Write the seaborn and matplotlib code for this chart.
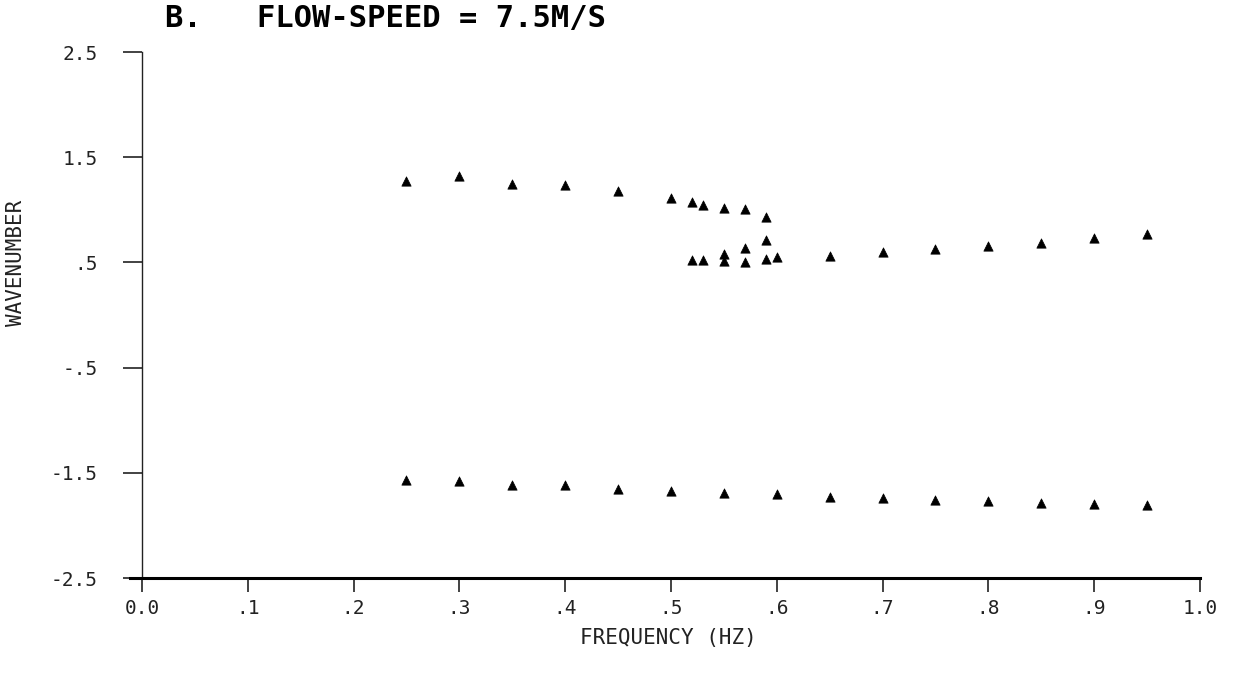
import matplotlib
matplotlib.use("Agg")
import matplotlib.pyplot as plt
import seaborn as sns
import pandas as pd

top_freq = [0.25, 0.30, 0.35, 0.40, 0.45, 0.50, 0.52, 0.53, 0.55, 0.57, 0.59]
top_k = [1.27, 1.32, 1.25, 1.24, 1.18, 1.11, 1.07, 1.045, 1.02, 1.01, 0.93]

mid_freq = [0.52, 0.53, 0.55, 0.55, 0.57, 0.57, 0.59, 0.59, 0.60,
            0.65, 0.70, 0.75, 0.80, 0.85, 0.90, 0.95]
mid_k = [0.52, 0.52, 0.58, 0.51, 0.64, 0.50, 0.71, 0.53, 0.55,
         0.56, 0.60, 0.63, 0.66, 0.68, 0.73, 0.77]

bot_freq = [0.25, 0.30, 0.35, 0.40, 0.45, 0.50, 0.55, 0.60,
            0.65, 0.70, 0.75, 0.80, 0.85, 0.90, 0.95]
bot_k = [-1.57, -1.58, -1.62, -1.62, -1.65, -1.67, -1.69, -1.70,
         -1.73, -1.74, -1.76, -1.77, -1.79, -1.80, -1.81]

x_ticks = [0.0, 0.1, 0.2, 0.3, 0.4, 0.5, 0.6, 0.7, 0.8, 0.9, 1.0]
x_labels = ["0.0", ".1", ".2", ".3", ".4", ".5", ".6", ".7", ".8", ".9", "1.0"]
y_ticks = [2.5, 1.5, 0.5, -0.5, -1.5, -2.5]
y_labels = ["2.5", "1.5", ".5", "-.5", "-1.5", "-2.5"]

df = pd.DataFrame({
    "freq": top_freq + mid_freq + bot_freq,
    "k": top_k + mid_k + bot_k,
})

sns.set_theme(style="white")
plt.rcParams["font.family"] = ["DejaVu Sans Mono", "DejaVu Sans"]

W, H = 1237, 680
fig = plt.figure(figsize=(W / 100, H / 100), dpi=100)
ax_left, ax_right, ax_top, ax_bot = 130, 1200, 52, 578
ax = fig.add_axes([ax_left / W, 1 - ax_bot / H,
                   (ax_right - ax_left) / W, (ax_bot - ax_top) / H])

sns.scatterplot(data=df, x="freq", y="k", marker="^", s=45, color="black",
                edgecolor="black", linewidth=0.5, ax=ax, legend=False)

ax.set_xlim(-0.0113, 1.0)
ax.set_ylim(-2.5, 2.5)
ax.spines["left"].set_position(("data", 0.0))
ax.spines["top"].set_visible(False)
ax.spines["right"].set_visible(False)
ax.spines["left"].set_color("#222222")
ax.spines["left"].set_linewidth(1.0)
ax.spines["bottom"].set_color("black")
ax.spines["bottom"].set_linewidth(2.2)

ax.set_xticks(x_ticks)
ax.set_xticklabels(x_labels)
ax.set_yticks(y_ticks)
ax.set_yticklabels(y_labels)
ax.tick_params(axis="both", which="major", left=True, bottom=True,
               direction="out", width=1.2, color="#222222",
               labelsize=14, labelcolor="#222222")
ax.tick_params(axis="y", length=14, pad=18)
ax.tick_params(axis="x", length=10, pad=5)

ax.set_xlabel("FREQUENCY (HZ)", fontsize=15, color="#222222")
ax.set_ylabel("WAVENUMBER", fontsize=15, color="#222222")
ax.xaxis.set_label_coords((668 - ax_left) / (ax_right - ax_left),
                          (ax_bot - 638) / (ax_bot - ax_top))
ax.xaxis.label.set_va("center")
ax.yaxis.set_label_coords((16 - ax_left) / (ax_right - ax_left),
                          (ax_bot - 263) / (ax_bot - ax_top))
ax.yaxis.label.set_va("center")

fig.text(165 / W, 1 - 19 / H, "B.   FLOW-SPEED = 7.5M/S", fontsize=22,
         fontweight="bold", color="black", va="center", ha="left")

fig.savefig("out.png", dpi=100)
